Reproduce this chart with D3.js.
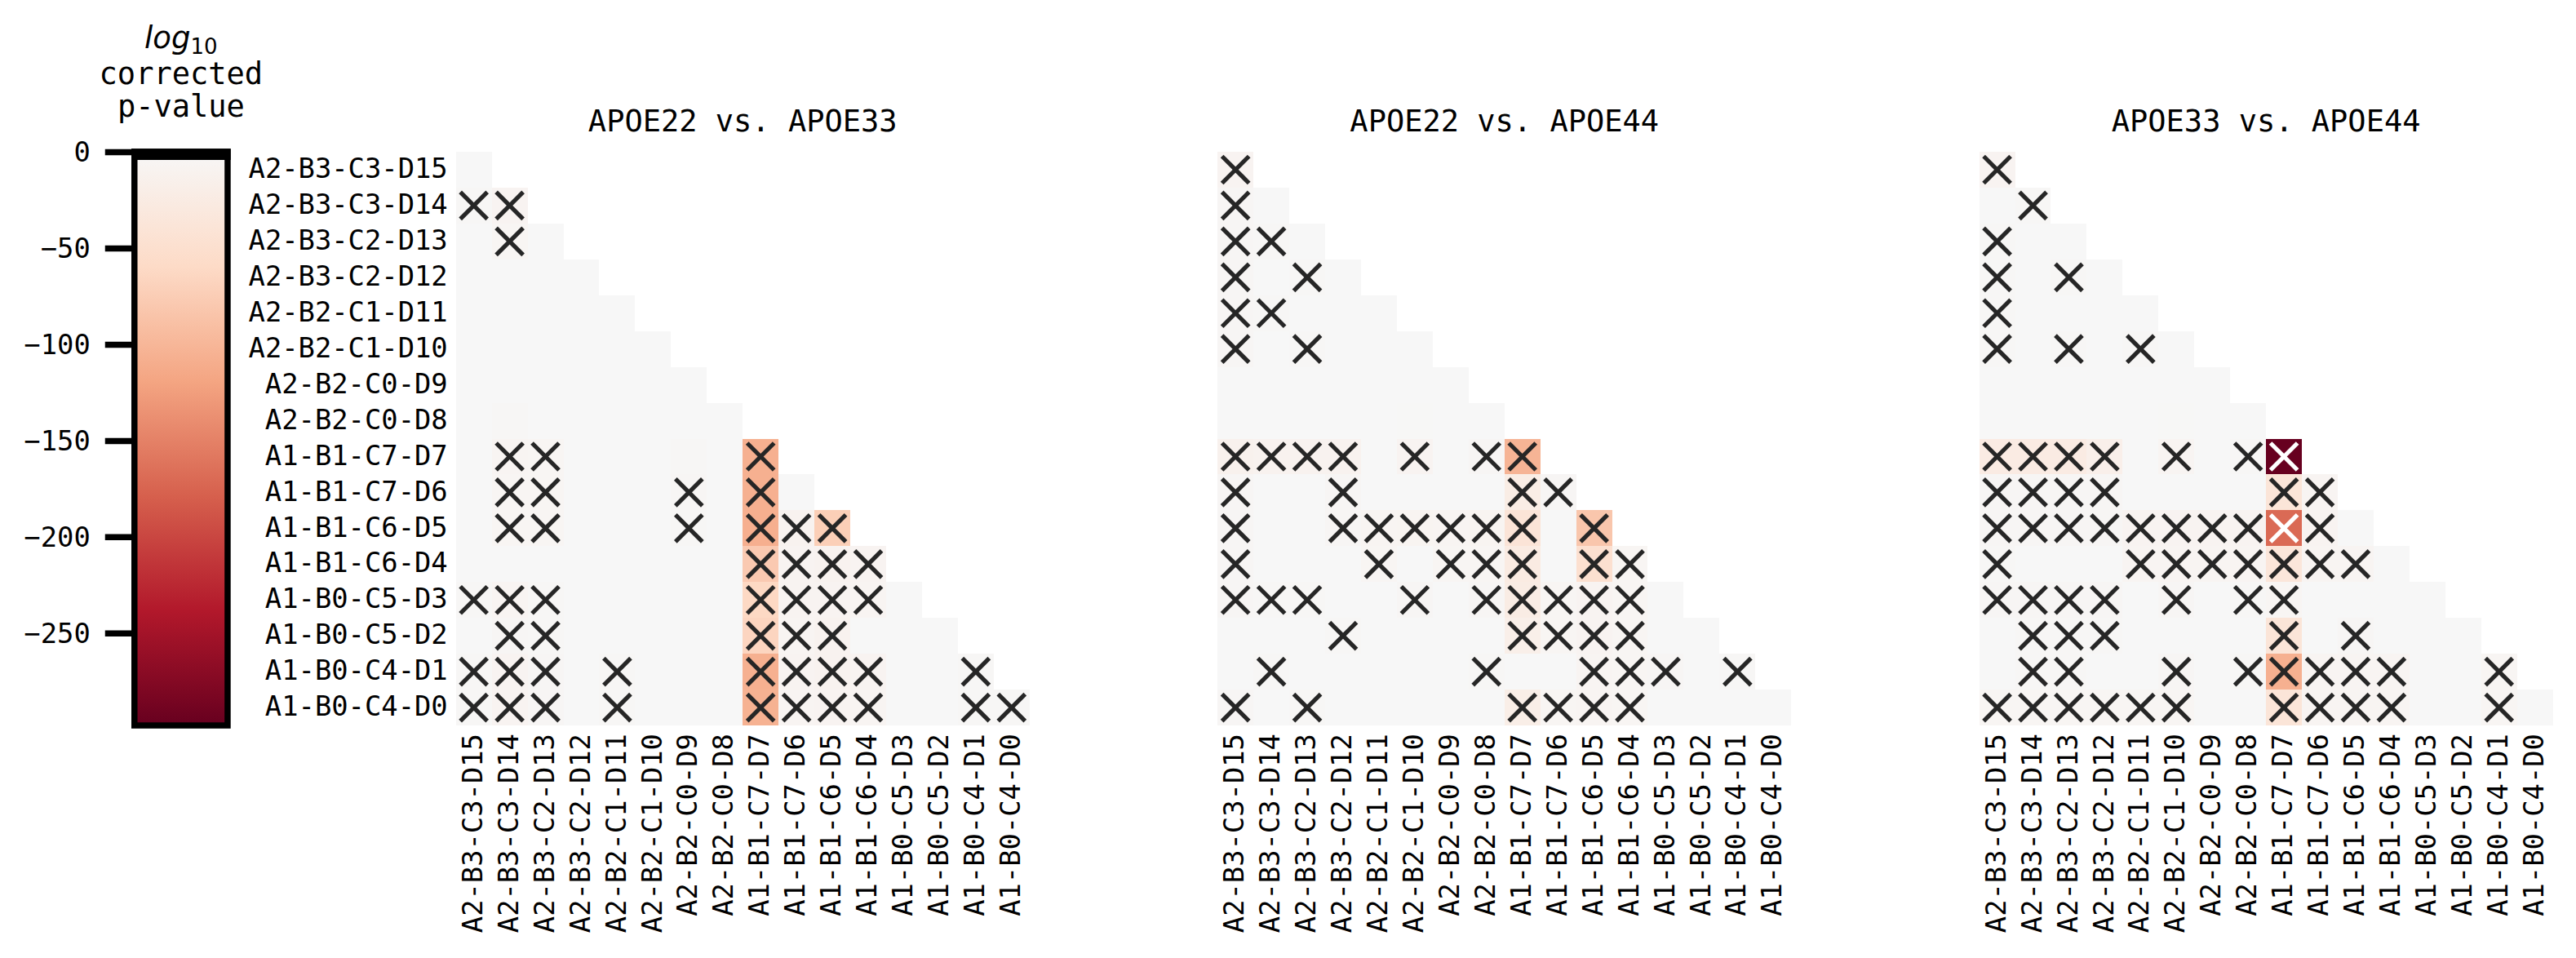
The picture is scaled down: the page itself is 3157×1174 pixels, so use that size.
<!DOCTYPE html>
<html><head><meta charset="utf-8">
<script src="https://cdn.jsdelivr.net/npm/d3@7"></script>
<style>body{margin:0;background:#fff}</style>
</head><body><svg id="chart" width="3157" height="1174"></svg>
<script>
const rowLabels = ["A2-B3-C3-D15","A2-B3-C3-D14","A2-B3-C2-D13","A2-B3-C2-D12","A2-B2-C1-D11","A2-B2-C1-D10","A2-B2-C0-D9","A2-B2-C0-D8","A1-B1-C7-D7","A1-B1-C7-D6","A1-B1-C6-D5","A1-B1-C6-D4","A1-B0-C5-D3","A1-B0-C5-D2","A1-B0-C4-D1","A1-B0-C4-D0"];
const panelTitles = ["APOE22 vs. APOE33","APOE22 vs. APOE44","APOE33 vs. APOE44"];
const cbTicks = [0,-50,-100,-150,-200,-250];
const colorMin = -298;
const rdbuStops = ["#67001f","#b2182b","#d6604d","#f4a582","#fddbc7","#f7f7f7"];

// log10 corrected p-values (lower triangle, row i has i+1 values)
const values22v33 = [
  [0],
  [-2,-8],
  [0,-5,0],
  [0,0,0,0],
  [0,0,0,0,0],
  [0,0,0,0,0,0],
  [0,0,0,0,0,0,0],
  [0,-2,0,0,0,0,0,0],
  [0,-6,-5,0,0,0,-2,0,-107],
  [0,-5,-5,0,0,0,-4,0,-107,0],
  [0,-5,-5,0,0,0,-3,0,-108,-10,-73],
  [0,0,0,0,0,0,0,0,-79,-8,-10,-8],
  [-2,-6,-3,0,0,0,0,0,-62,-8,-8,-6,0],
  [0,-4,-3,0,0,0,0,0,-66,-6,-10,0,0,0],
  [-2,-8,-4,0,-2,0,0,0,-107,-8,-10,-8,0,0,-3],
  [-2,-8,-4,0,-3,0,0,0,-105,-6,-8,-6,0,0,-3,-2]
];
const sig22v33 = [
  [],[0,1],[1],[],[],[],[],[],
  [1,2,8],[1,2,6,8],[1,2,6,8,9,10],[8,9,10,11],
  [0,1,2,8,9,10,11],[1,2,8,9,10],[0,1,2,4,8,9,10,11,14],[0,1,2,4,8,9,10,11,14,15]
];
const values22v44 = [
  [-8],
  [-4,0],
  [-4,-3,0],
  [-4,0,-3,0],
  [-4,-3,0,0,0],
  [-4,0,-3,0,0,0],
  [0,0,0,0,0,0,0],
  [0,0,0,0,0,-1,0,0],
  [-12,-10,-10,-10,0,-8,0,-4,-103],
  [-4,0,0,-4,0,0,0,0,-22,-4],
  [-4,0,0,-4,-6,-7,-6,-7,-40,0,-83],
  [-4,0,0,0,-5,0,-5,-5,-26,0,-48,-5],
  [-4,-3,-3,0,0,-4,0,-4,-24,-5,-8,-5,0],
  [0,0,0,-3,0,0,0,0,-18,-5,-8,-5,0,0],
  [0,-3,0,0,0,0,0,-3,0,0,-6,-5,-4,0,-3],
  [-4,0,-3,0,0,0,0,0,-20,-5,-6,-5,0,0,0,0]
];
const sig22v44 = [
  [0],[0],[0,1],[0,2],[0,1],[0,2],[],[],
  [0,1,2,3,5,7,8],[0,3,8,9],[0,3,4,5,6,7,8,10],[0,4,6,7,8,10,11],
  [0,1,2,5,7,8,9,10,11],[3,8,9,10,11],[1,7,10,11,12,14],[0,2,8,9,10,11]
];
const values33v44 = [
  [-8],
  [0,-3],
  [-3,0,0],
  [-3,0,-3,0],
  [-3,0,0,0,0],
  [-3,0,-3,0,-3,0],
  [0,0,0,0,0,0,0],
  [0,0,0,0,0,-1,0,0],
  [-25,-25,-25,-16,0,-6,0,-3,-298],
  [-4,-4,-4,-4,0,0,0,0,-38,-6],
  [-4,-4,-4,-4,-8,-8,-8,-8,-170,-8,0],
  [-3,0,0,0,-6,-6,-6,-6,-36,-6,-6,0],
  [-4,-4,-4,-4,0,-4,0,-3,-5,0,0,0,0],
  [0,-3,-3,-3,0,0,0,0,-38,0,-4,0,0,0],
  [0,-3,-3,0,0,-4,0,-3,-107,-6,-6,-6,0,0,-5],
  [-5,-5,-5,-5,-5,-5,0,0,-38,-6,-6,-6,0,0,-5,0]
];
const sig33v44 = [
  [0],[1],[0],[0,2],[0],[0,2,4],[],[],
  [0,1,2,3,5,7,8],[0,1,2,3,8,9],[0,1,2,3,4,5,6,7,8,9],[0,4,5,6,7,8,9,10],
  [0,1,2,3,5,7,8],[1,2,3,8,10],[1,2,5,7,8,9,10,11,14],[0,1,2,3,4,5,8,9,10,11,14]
];

const panels = [
  {title: panelTitles[0], values: values22v33, sig: sig22v33},
  {title: panelTitles[1], values: values22v44, sig: sig22v44},
  {title: panelTitles[2], values: values33v44, sig: sig33v44}
];

const MONO = "DejaVu Sans Mono";
const svg = d3.select("#chart");
const n = rowLabels.length;
const cell = 43.94;
const gridTop = 186;
const gridBottom = gridTop + n * cell;
const lefts = [558.7, 1492.2, 2425.6];

const color = d3.scaleLinear()
  .domain(rdbuStops.map((c, i) => colorMin + i * (0 - colorMin) / (rdbuStops.length - 1)))
  .range(rdbuStops).interpolate(d3.interpolateRgb).clamp(true);

function lum(c) {
  const r = d3.rgb(c);
  const f = v => { v /= 255; return v <= 0.03928 ? v / 12.92 : Math.pow((v + 0.055) / 1.055, 2.4); };
  return 0.2126 * f(r.r) + 0.7152 * f(r.g) + 0.0722 * f(r.b);
}

panels.forEach((p, k) => {
  const x = d3.scaleBand().domain(rowLabels).range([lefts[k], lefts[k] + n * cell]);
  const y = d3.scaleBand().domain(rowLabels).range([gridTop, gridBottom]);
  const g = svg.append("g");
  const cells = [];
  p.values.forEach((row, i) => row.forEach((v, j) =>
    cells.push({r: rowLabels[i], c: rowLabels[j], v, sig: p.sig[i].includes(j)})));
  g.append("g").selectAll("rect").data(cells).join("rect")
    .attr("x", d => x(d.c)).attr("y", d => y(d.r))
    .attr("width", x.bandwidth()).attr("height", y.bandwidth())
    .attr("fill", d => color(d.v)).attr("shape-rendering", "crispEdges");
  const hs = 16.5;
  const marks = g.append("g").selectAll("g").data(cells.filter(d => d.sig)).join("g")
    .attr("transform", d => `translate(${x(d.c) + x.bandwidth() / 2},${y(d.r) + y.bandwidth() / 2})`)
    .attr("stroke", d => lum(color(d.v)) > 0.408 ? "#262626" : "#ffffff")
    .attr("stroke-width", 5.2);
  marks.append("line").attr("x1", -hs).attr("y1", -hs).attr("x2", hs).attr("y2", hs);
  marks.append("line").attr("x1", -hs).attr("y1", hs).attr("x2", hs).attr("y2", -hs);

  // title
  svg.append("text").attr("x", lefts[k] + n * cell / 2).attr("y", 161)
    .attr("text-anchor", "middle").attr("font-family", MONO).attr("font-size", 37)
    .attr("fill", "#000").text(p.title);

  // x axis
  const xa = svg.append("g").attr("transform", `translate(0,${gridBottom})`)
    .call(d3.axisBottom(x).tickSize(0).tickPadding(0));
  xa.select(".domain").remove();
  xa.selectAll("text").attr("font-family", MONO).attr("font-size", 33.8).attr("fill", "#000")
    .attr("transform", "rotate(-90)").attr("text-anchor", "end")
    .attr("x", -10).attr("y", 0).attr("dy", "0.3em");
  // y axis
  if (k === 0) {
    const ya = svg.append("g").attr("transform", `translate(${lefts[0]},0)`)
      .call(d3.axisLeft(y).tickSize(0).tickPadding(10));
    ya.select(".domain").remove();
    ya.selectAll("text").attr("font-family", MONO).attr("font-size", 33.8).attr("fill", "#000")
      .attr("dy", "0.3em");
  }
});

// colorbar
const cbY = d3.scaleLinear().domain([colorMin, 0]).range([gridBottom, gridTop]);
const defs = svg.append("defs");
const grad = defs.append("linearGradient").attr("id", "cbgrad")
  .attr("x1", 0).attr("y1", 1).attr("x2", 0).attr("y2", 0);
rdbuStops.forEach((c, i) => grad.append("stop").attr("offset", i / (rdbuStops.length - 1)).attr("stop-color", c));
const cbX = 164.75, cbW = 114.2;
svg.append("rect").attr("x", cbX).attr("y", cbY(0)).attr("width", cbW)
  .attr("height", cbY(colorMin) - cbY(0)).attr("fill", "url(#cbgrad)")
  .attr("stroke", "#000").attr("stroke-width", 7.5);
svg.append("rect").attr("x", cbX - 3.75).attr("y", cbY(0) - 3.75).attr("width", cbW + 7.5)
  .attr("height", 13.75).attr("fill", "#000");
const cba = svg.append("g").attr("transform", `translate(${cbX},0)`)
  .call(d3.axisLeft(cbY).tickValues(cbTicks).tickSize(36).tickPadding(18)
    .tickFormat(d => d === 0 ? "0" : "\u2212" + Math.abs(d)));
cba.select(".domain").remove();
cba.selectAll("line").attr("stroke", "#000").attr("stroke-width", 7.5);
cba.selectAll("text").attr("font-family", MONO).attr("font-size", 33.8).attr("fill", "#000").attr("dy", "0.34em");

// colorbar label
const cbCx = cbX + cbW / 2;
const t1 = svg.append("text").attr("x", cbCx).attr("y", 59).attr("text-anchor", "middle")
  .attr("font-family", "DejaVu Sans").attr("font-size", 37).attr("fill", "#000");
t1.append("tspan").attr("font-style", "italic").text("log");
t1.append("tspan").attr("font-size", 26).attr("dy", 7).text("10");
svg.append("text").attr("x", cbCx).attr("y", 103).attr("text-anchor", "middle")
  .attr("font-family", MONO).attr("font-size", 37).attr("fill", "#000").text("corrected");
svg.append("text").attr("x", cbCx).attr("y", 143).attr("text-anchor", "middle")
  .attr("font-family", MONO).attr("font-size", 37).attr("fill", "#000").text("p-value");
</script>
</body></html>
